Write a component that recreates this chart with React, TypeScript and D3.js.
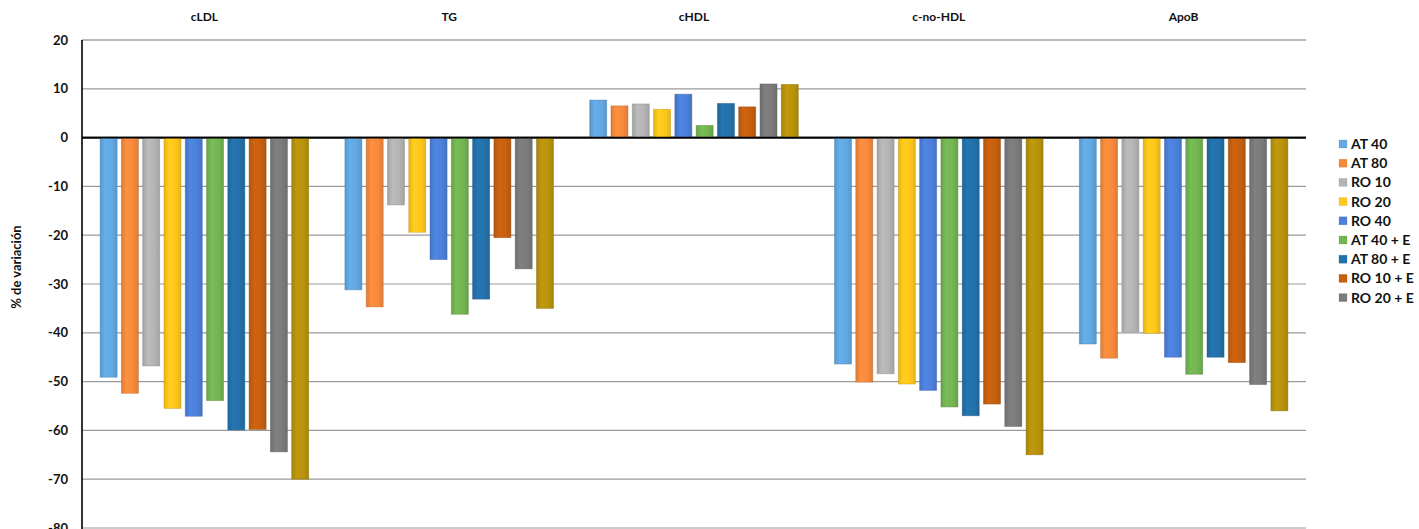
import React from "react";
import * as d3 from "d3";

const categories = ["cLDL", "TG", "cHDL", "c-no-HDL", "ApoB"];
const seriesNames = ["AT 40", "AT 80", "RO 10", "RO 20", "RO 40", "AT 40 + E", "AT 80 + E", "RO 10 + E", "RO 20 + E", "RO 40 + E"];
const legendNames = ["AT 40", "AT 80", "RO 10", "RO 20", "RO 40", "AT 40 + E", "AT 80 + E", "RO 10 + E", "RO 20 + E"];
const colors = ["#62A8E2", "#F68A3C", "#B4B4B4", "#FFC61C", "#4C80DA", "#73B552", "#2371AB", "#C6600F", "#7B7B7D", "#B8930C"];

const cLDL = [-49.1, -52.4, -46.8, -55.5, -57.1, -53.9, -59.9, -59.8, -64.4, -70];
const TG = [-31.2, -34.7, -13.8, -19.4, -25, -36.2, -33.1, -20.5, -26.9, -35];
const cHDL = [7.7, 6.5, 6.9, 5.8, 8.9, 2.5, 7.0, 6.3, 11.0, 10.9];
const cNoHDL = [-46.4, -50.1, -48.4, -50.5, -51.8, -55.2, -57, -54.6, -59.2, -65];
const ApoB = [-42.3, -45.2, -39.8, -40.1, -45, -48.5, -45, -46.1, -50.6, -56];
const valuesByCategory = [cLDL, TG, cHDL, cNoHDL, ApoB];
const yTicks = [20, 10, 0, -10, -20, -30, -40, -50, -60, -70, -80];

const W = 1419;
const H = 529;
const M = { left: 82, right: 1306, top: 40, bottom: 528 };
const FONT = "Lato, 'Open Sans', sans-serif";

export default function App() {
  const x0 = d3.scaleBand<string>().domain(categories).range([M.left, M.right]).padding(0);
  const x1 = d3.scaleBand<string>().domain(seriesNames).range([0, x0.bandwidth()]).paddingInner(0.2).paddingOuter(0.85);
  const y = d3.scaleLinear().domain([-80, 20]).range([M.bottom, M.top]);

  return (
    <svg width={W} height={H} style={{ position: "absolute", left: 0, top: 0, background: "#fff" }} fontFamily={FONT}>
      <defs>
        {colors.map((c, i) => {
          const dark = d3.color(c)!.darker(0.3).formatHex();
          const light = d3.color(c)!.brighter(0.12).formatHex();
          return (
            <linearGradient key={i} id={`g${i}`} x1="0" x2="1" y1="0" y2="0">
              <stop offset="0%" stopColor={dark} />
              <stop offset="30%" stopColor={light} />
              <stop offset="70%" stopColor={c} />
              <stop offset="100%" stopColor={dark} />
            </linearGradient>
          );
        })}
      </defs>
      {yTicks.map((t) => (
        <g key={t}>
          <line
            x1={M.left}
            x2={M.right}
            y1={y(t)}
            y2={y(t)}
            stroke={t === 0 ? "#000" : t === 20 ? "#777" : "#9a9a9a"}
            strokeWidth={t === 0 ? 1.6 : 1.2}
          />
          <text x={68} y={y(t)} dy="0.35em" textAnchor="end" fontSize={13} fontWeight="bold" fill="#111">
            {t}
          </text>
        </g>
      ))}
      {categories.map((cat, ci) => (
        <g key={cat}>
          <text x={x0(cat)! + x0.bandwidth() / 2} y={21} textAnchor="middle" fontSize={12} fontWeight="bold" fill="#111">
            {cat}
          </text>
          {valuesByCategory[ci].map((v, si) => {
            const bx = x0(cat)! + x1(seriesNames[si])!;
            const yTop = y(Math.max(0, v));
            const yBot = y(Math.min(0, v));
            return (
              <rect
                key={si}
                x={bx}
                y={yTop}
                width={x1.bandwidth()}
                height={yBot - yTop}
                fill={`url(#g${si})`}
                stroke={d3.color(colors[si])!.darker(0.8).formatHex()}
                strokeOpacity={0.5}
                strokeWidth={0.8}
              />
            );
          })}
        </g>
      ))}
      <line x1={M.left} x2={M.left} y1={M.top} y2={H} stroke="#000" strokeWidth={1.6} />
      <line x1={M.left} x2={M.right} y1={y(0)} y2={y(0)} stroke="#000" strokeWidth={1.6} />
      <text
        transform={`translate(21, 267) rotate(-90)`}
        textAnchor="middle"
        fontSize={13}
        fontWeight="bold"
        fill="#111"
      >
        % de variación
      </text>
      {legendNames.map((n, i) => (
        <g key={n} transform={`translate(1339, ${144 + i * 19.2})`}>
          <rect x={0} y={-4} width={8} height={8} fill={colors[i]} stroke={d3.color(colors[i])!.darker(0.6).formatHex()} strokeOpacity={0.4} strokeWidth={0.5} />
          <text x={12} y={0} dy="0.35em" fontSize={14} fontWeight="bold" fill="#111">
            {n}
          </text>
        </g>
      ))}
    </svg>
  );
}
